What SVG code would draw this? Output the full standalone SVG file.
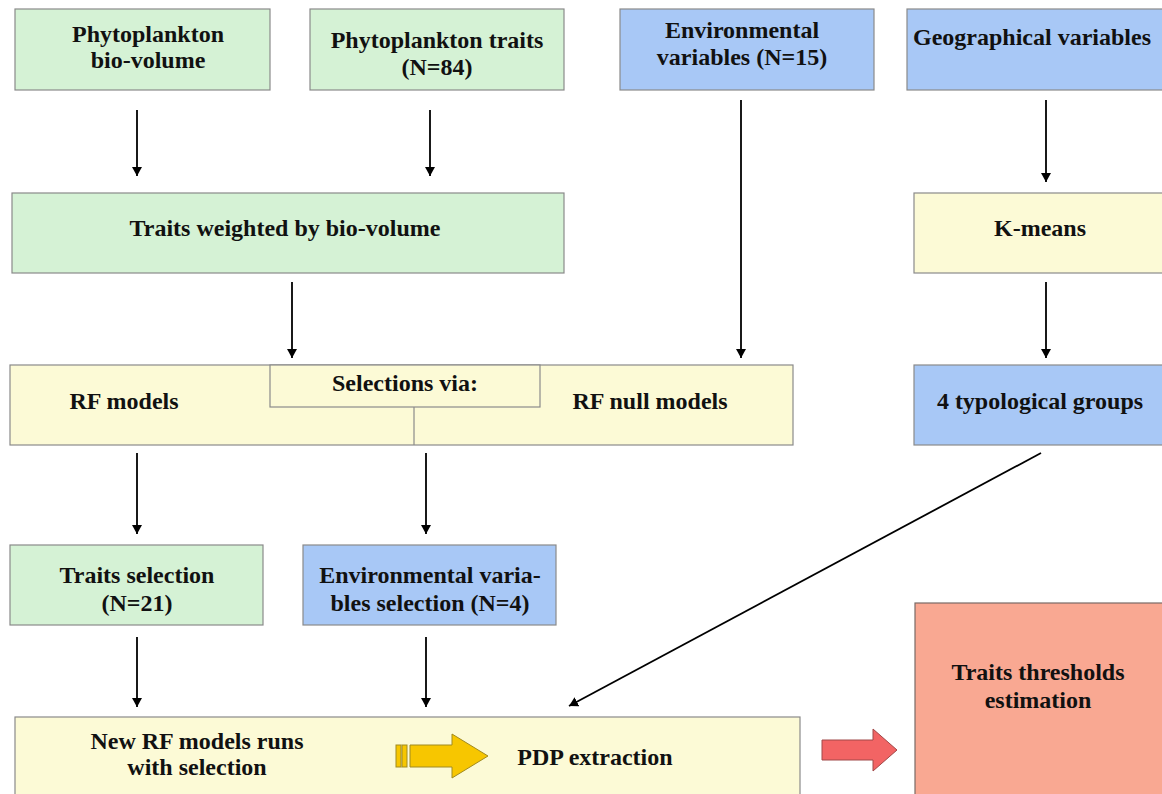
<svg xmlns="http://www.w3.org/2000/svg" width="1162" height="794" viewBox="0 0 1162 794">
<defs>
<style>
.g{fill:#d5f2d5;stroke:#8a8a8a;stroke-width:1.2}
.b{fill:#a8c8f6;stroke:#8a8a8a;stroke-width:1.2}
.y{fill:#fcfad6;stroke:#8a8a8a;stroke-width:1.2}
.p{fill:#f9a892;stroke:#7a6a66;stroke-width:1.2}
text{font-family:"Liberation Serif","Times New Roman",serif;font-weight:bold;font-size:24px;fill:#111;text-anchor:middle}
.c line{stroke:#000;stroke-width:1.8;marker-end:url(#ah)}
</style>
<marker id="ah" viewBox="0 0 9 10" refX="9" refY="5" markerWidth="9" markerHeight="10" markerUnits="userSpaceOnUse" orient="auto">
<path d="M0,0 L9,5 L0,10 z" fill="#000"/>
</marker>
</defs>
<rect width="1162" height="794" fill="#fff"/>

<g id="n1"><rect class="g" x="15" y="9" width="255" height="81"/><text x="148" y="42">Phytoplankton</text><text x="148" y="68">bio-volume</text></g>
<g id="n2"><rect class="g" x="310" y="9" width="254" height="81"/><text x="437" y="48">Phytoplankton traits</text><text x="437" y="75">(N=84)</text></g>
<g id="n3"><rect class="b" x="620" y="9" width="254" height="81"/><text x="742" y="38">Environmental</text><text x="742" y="65">variables (N=15)</text></g>
<g id="n4"><rect class="b" x="907" y="9" width="260" height="81"/><text x="1032" y="45">Geographical variables</text></g>

<g id="n5"><rect class="g" x="12" y="193" width="552" height="80"/><text x="285" y="236">Traits weighted by bio-volume</text></g>
<g id="n6"><rect class="y" x="914" y="193" width="253" height="80"/><text x="1040" y="236">K-means</text></g>

<g id="n7"><rect class="y" x="10" y="365" width="783" height="80"/><line x1="414" y1="407" x2="414" y2="445" stroke="#8a8a8a" stroke-width="1.2"/><text x="124" y="409">RF models</text><text x="650" y="409">RF null models</text></g>
<g id="n8"><rect class="y" x="270" y="365" width="270" height="42"/><text x="405" y="391">Selections via:</text></g>
<g id="n9"><rect class="b" x="914" y="365" width="253" height="80"/><text x="1040" y="409">4 typological groups</text></g>

<g id="n10"><rect class="g" x="10" y="545" width="253" height="80"/><text x="137" y="583">Traits selection</text><text x="137" y="611">(N=21)</text></g>
<g id="n11"><rect class="b" x="303" y="545" width="253" height="80"/><text x="430" y="583">Environmental varia-</text><text x="430" y="611">bles selection (N=4)</text></g>

<g id="n12"><rect class="y" x="15" y="717" width="785" height="85"/><text x="197" y="749">New RF models runs</text><text x="197" y="775">with selection</text><text x="595" y="765">PDP extraction</text>
<g id="yarrow"><path d="M410,745 L452,745 L452,734 L488,756 L452,778 L452,767 L410,767 z" fill="#f7c600" stroke="#a08a20" stroke-width="1"/><rect x="396" y="745" width="5" height="22" fill="#f7c600" stroke="#a08a20" stroke-width="1"/><rect x="402" y="745" width="5" height="22" fill="#f7c600" stroke="#a08a20" stroke-width="1"/></g>
</g>
<g id="n13"><rect class="p" x="915" y="603" width="252" height="195"/><text x="1038" y="680">Traits thresholds</text><text x="1038" y="708">estimation</text></g>
<g id="redarrow"><path d="M822,740 L873,740 L873,729 L897,750 L873,771 L873,760 L822,760 z" fill="#f26464" stroke="#a04848" stroke-width="1"/></g>

<g class="c" id="connectors">
<line x1="137" y1="110" x2="137" y2="176"/>
<line x1="430" y1="110" x2="430" y2="176"/>
<line x1="741" y1="100" x2="741" y2="358"/>
<line x1="1046" y1="100" x2="1046" y2="182"/>
<line x1="292" y1="282" x2="292" y2="358"/>
<line x1="1046" y1="282" x2="1046" y2="358"/>
<line x1="137" y1="453" x2="137" y2="534"/>
<line x1="426" y1="453" x2="426" y2="534"/>
<line x1="137" y1="637" x2="137" y2="707"/>
<line x1="426" y1="637" x2="426" y2="707"/>
<line x1="1041" y1="453" x2="569" y2="706"/>
</g>
</svg>
